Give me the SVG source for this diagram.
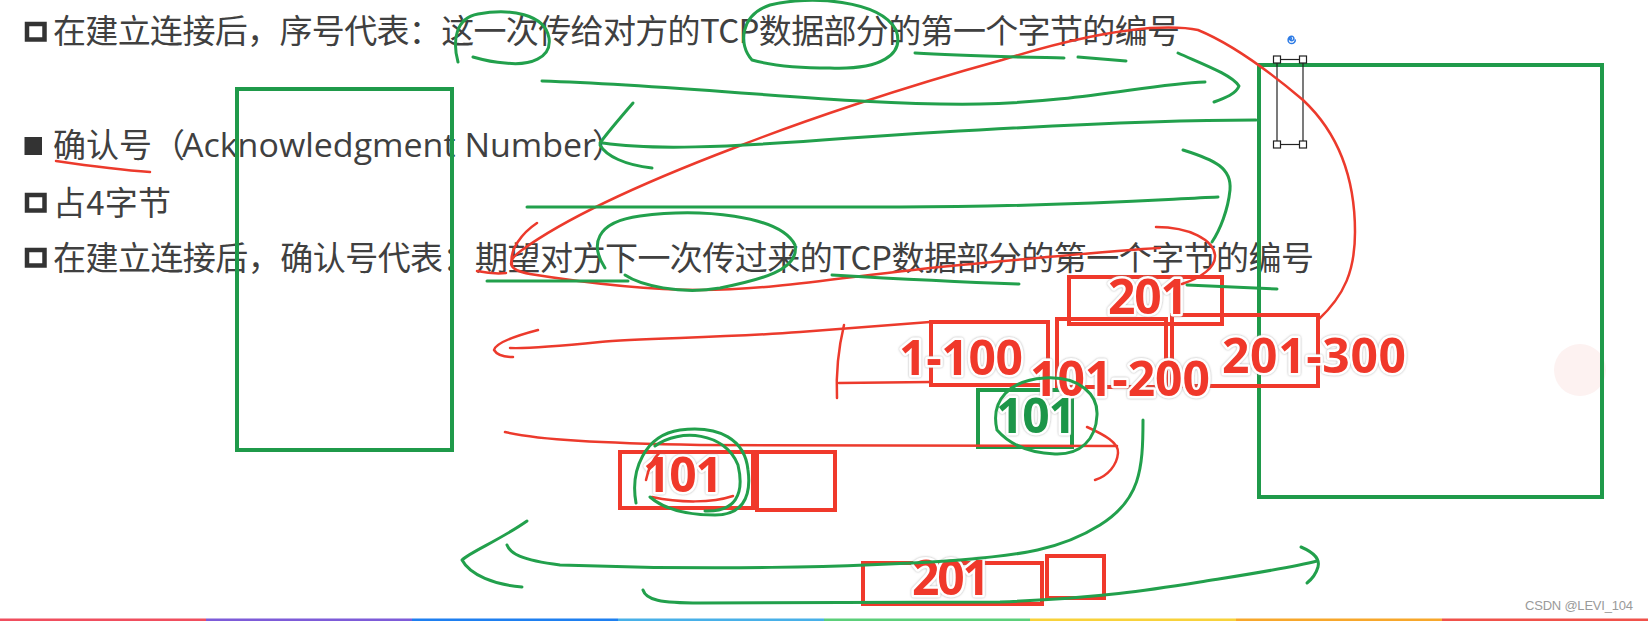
<svg xmlns="http://www.w3.org/2000/svg" width="1648" height="621" viewBox="0 0 1648 621">
<defs>
<style>
.t{font-family:"Noto Sans CJK SC","Noto Sans",sans-serif;font-size:33px;fill:#404040}
.lat{font-family:"Open Sans","Noto Sans",sans-serif;font-size:33px;fill:#404040}
.cb{fill:none;stroke:#333;stroke-width:4.5}
.num{font-family:"Open Sans","Liberation Sans",sans-serif;font-weight:700;font-size:48px;paint-order:stroke;stroke:#fff;stroke-width:5;stroke-linejoin:round;text-anchor:middle}
.red{fill:#f0392b}
.grn{fill:#1f9648}
.rb{fill:none;stroke:#f0392b;stroke-width:4}
.gb{fill:none;stroke:#1f9a4a;stroke-width:4}
.hg{fill:none;stroke:#22a04c;stroke-width:3;stroke-linecap:round;stroke-linejoin:round}
.hr{fill:none;stroke:#ec3a2c;stroke-width:2.5;stroke-linecap:round;stroke-linejoin:round}
.sel{fill:none;stroke:#222;stroke-width:1.2}
.hd{fill:#fff;stroke:#222;stroke-width:1.2}
</style>
<filter id="halo" x="-10%" y="-20%" width="120%" height="140%">
<feDropShadow dx="0" dy="0" stdDeviation="0.9" flood-color="#8a8a8a" flood-opacity="0.7"/>
</filter>
</defs>
<rect width="1648" height="621" fill="#fff"/>
<circle cx="1580" cy="370" r="26" fill="#fdf2f1"/>

<g id="text">
<rect class="cb" x="27" y="24" width="17.5" height="15.5"/>
<text class="t" x="53" y="43" textLength="1127" lengthAdjust="spacing">在建立连接后，序号代表：这一次传给对方的TCP数据部分的第一个字节的编号</text>
<rect x="24.5" y="137" width="17.5" height="18" fill="#333"/>
<text class="t" x="53" y="157">确认号（</text>
<text class="lat" x="182" y="157" textLength="414" lengthAdjust="spacingAndGlyphs">Acknowledgment Number</text>
<text class="t" x="592" y="157">）</text>
<rect class="cb" x="27" y="195" width="17.5" height="15.5"/>
<text class="t" x="53" y="215" textLength="118" lengthAdjust="spacing">占4字节</text>
<rect class="cb" x="27" y="250" width="17.5" height="15.5"/>
<text class="t" x="53" y="270" textLength="1261" lengthAdjust="spacing">在建立连接后，确认号代表：期望对方下一次传过来的TCP数据部分的第一个字节的编号</text>
</g>

<g id="hostA"><rect class="gb" x="237" y="89" width="215" height="361"/></g>
<g id="hostB"><rect class="gb" x="1259" y="65" width="343" height="432"/></g>

<g id="selection">
<line class="sel" x1="1277" y1="59.5" x2="1277" y2="144.5"/>
<line class="sel" x1="1303" y1="59.5" x2="1303" y2="144.5"/>
<line class="sel" x1="1277" y1="59.5" x2="1303" y2="59.5"/>
<line class="sel" x1="1277" y1="144.5" x2="1303" y2="144.5"/>
<rect class="hd" x="1273.5" y="56" width="7" height="7"/>
<rect class="hd" x="1299.5" y="56" width="7" height="7"/>
<rect class="hd" x="1273.5" y="141" width="7" height="7"/>
<rect class="hd" x="1299.5" y="141" width="7" height="7"/>
<path d="M1290.5 39.5 a1 1 0 1 0 -1 -1 a2.2 2.2 0 1 0 2.2 -2.2 a3.6 3.6 0 1 0 3.6 3.6" fill="none" stroke="#2d7be5" stroke-width="1.5" stroke-linecap="round"/>
</g>

<g id="boxes">
<rect class="rb" x="1069" y="277" width="153" height="47"/>
<rect class="rb" x="931" y="322" width="117" height="63"/>
<rect class="rb" x="1057" y="319" width="109" height="68"/>
<rect class="rb" x="1172" y="315" width="146" height="71"/>
<rect class="gb" x="978" y="390" width="94" height="57"/>
<rect class="rb" x="620" y="452" width="133" height="56"/>
<rect class="rb" x="757" y="452" width="78" height="58"/>
<rect class="rb" x="863" y="563" width="179" height="41"/>
<rect class="rb" x="1047" y="556" width="57" height="42"/>
</g>

<g id="numbers" filter="url(#halo)">
<text class="num red" x="1148" y="314" textLength="80">201</text>
<text class="num red" x="961" y="375" textLength="124">1-100</text>
<text class="num red" x="1120" y="396" textLength="180">101-200</text>
<text class="num red" x="1314" y="373" textLength="184">201-300</text>
<text class="num grn" x="1036" y="433" textLength="80">101</text>
<text class="num red" x="683" y="492" textLength="80">101</text>
<text class="num red" x="951" y="595" textLength="78">201</text>
</g>

<g id="connectors">
<path class="hr" d="M56 161 C90 166 120 170 150 172"/>
<path class="hr" d="M477 271 C487 273 497 274 506 273"/>
<path class="hr" d="M537 223 C522 233 509 250 512 264"/>
<path class="hr" d="M1318 320 C1345 295 1355 270 1355 232 C1355 172 1335 130 1303 100 C1270 72 1232 44 1198 30 C1185 27 1170 27 1150 28 C1100 32 1050 45 1002 60 C900 88 800 122 734 148 C650 180 570 215 522 250 C505 262 508 270 530 274 C580 282 640 290 700 290 C780 290 860 274 960 265 C1060 256 1120 250 1160 248"/>
<path class="hr" d="M1156 227 C1190 227 1213 240 1215 255 C1216 268 1200 278 1182 284"/>
<path class="hr" d="M930 322 C880 326 850 328 800 332 C720 338 640 338 600 342 C560 346 530 349 510 348"/>
<path class="hr" d="M538 330 C515 336 496 343 494 350 C497 355 505 357 513 357"/>
<path class="hr" d="M844 325 C838 350 836 375 837 398"/>
<path class="hr" d="M839 383 L931 382"/>
<path class="hr" d="M505 432 C540 440 600 443 700 445 L1117 446"/>
<path class="hr" d="M1087 427 C1105 435 1119 443 1118 453 C1117 465 1108 476 1095 480"/>
<path class="hr" d="M646 480 C648 470 652 460 660 452"/>
<path class="hr" d="M652 497 C680 503 712 503 733 496"/>

<path class="hg" d="M458 62 C452 40 456 18 478 14 C510 8 545 14 549 38 C552 58 530 66 505 63 C490 62 480 59 473 57"/>
<path class="hg" d="M752 60 C738 45 740 15 770 5 C810 -5 880 0 896 30 C905 55 880 70 830 68 C800 68 770 65 752 60"/>
<path class="hg" d="M915 53 C960 56 1020 57 1064 58"/>
<path class="hg" d="M1078 57 L1126 61"/>
<path class="hg" d="M1178 53 C1205 65 1232 75 1239 86 C1236 94 1225 98 1214 102"/>
<path class="hg" d="M542 81 C700 86 850 106 980 104 C1080 102 1150 84 1205 82"/>
<path class="hg" d="M633 103 C620 118 608 132 600 143"/>
<path class="hg" d="M600 145 C606 156 625 165 652 168"/>
<path class="hg" d="M603 143 C650 150 720 148 850 138 C1000 128 1150 120 1256 120"/>
<path class="hg" d="M1183 150 C1215 160 1232 168 1230 190 C1228 210 1220 230 1212 242"/>
<path class="hg" d="M527 207 L900 207 C1050 207 1150 200 1218 197"/>
<path class="hg" d="M605 268 C590 245 595 222 640 216 C700 208 780 215 795 245 C800 270 760 280 720 288 C680 295 640 285 625 275"/>
<path class="hg" d="M487 281 L628 281"/>
<path class="hg" d="M832 275 C900 279 960 282 1019 284"/>
<path class="hg" d="M1187 285 L1277 289"/>
<path class="hg" d="M1143 420 C1143 470 1140 500 1100 525 C1060 550 1020 555 960 560 C850 568 700 570 560 565 C520 560 510 553 507 545"/>
<path class="hg" d="M527 521 C500 540 470 552 462 560 C470 575 495 585 522 587"/>
<path class="hg" d="M643 590 C646 600 660 603 700 603 L1000 602 C1100 598 1150 590 1200 582 C1250 574 1290 568 1317 561"/>
<path class="hg" d="M1301 547 C1315 553 1320 560 1318 567 C1316 574 1312 579 1307 583"/>
<path class="hg" d="M636 503 C630 470 645 435 680 430 C720 425 745 440 748 470 C752 500 740 515 715 515 C690 515 665 510 650 497"/>
<path class="hg" d="M655 446 C680 428 725 432 738 465 C745 495 735 512 705 511"/>
<path class="hg" d="M997 430 C990 400 1010 380 1045 378 C1080 376 1098 395 1097 415 C1096 440 1080 455 1055 454 C1030 453 1010 445 997 430"/>
</g>

<g id="footer">
<text x="1525" y="610" font-family="Liberation Sans, Arial, sans-serif" font-size="13" fill="#9a9a9a" textLength="108">CSDN @LEVI_104</text>
<rect x="0" y="618.5" width="206" height="2.5" fill="#f04e5e"/>
<rect x="206" y="618.5" width="206" height="2.5" fill="#7d5bd8"/>
<rect x="412" y="618.5" width="206" height="2.5" fill="#1e7ff0"/>
<rect x="618" y="618.5" width="206" height="2.5" fill="#48b0e8"/>
<rect x="824" y="618.5" width="206" height="2.5" fill="#5ccf7a"/>
<rect x="1030" y="618.5" width="206" height="2.5" fill="#f8d23a"/>
<rect x="1236" y="618.5" width="206" height="2.5" fill="#f7a72b"/>
<rect x="1442" y="618.5" width="206" height="2.5" fill="#f0514a"/>
</g>
</svg>
